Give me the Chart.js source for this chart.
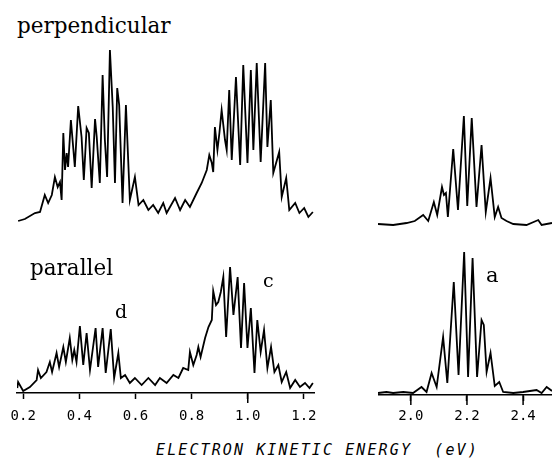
<!DOCTYPE html>
<html>
<head>
<meta charset="utf-8">
<script src="https://cdn.jsdelivr.net/npm/chart.js@4.4.1/dist/chart.umd.min.js"></script>
<style>
  body { margin:0; background:#fff; }
  #fig { position:relative; width:552px; height:458px; overflow:hidden; background:#fff; }
  #fig canvas { position:absolute; }
  .lbl { position:absolute; font-family:"DejaVu Serif"; line-height:1; color:#000; white-space:pre; }
  #xtitle { position:absolute; left:156px; top:443px; font-family:"DejaVu Sans Mono"; font-style:italic;
            font-size:15px; letter-spacing:2.1px; line-height:1; color:#000; white-space:pre; }
</style>
</head>
<body>
<div id="fig">
  <canvas id="perpLow"  width="297" height="190" style="left:17px;top:40px"></canvas>
  <canvas id="perpHigh" width="174" height="190" style="left:378px;top:40px"></canvas>
  <canvas id="parLow"   width="347" height="180" style="left:-8px;top:243px"></canvas>
  <canvas id="parHigh"  width="174" height="180" style="left:378px;top:245px"></canvas>

  <div class="lbl" style="left:17px;top:15px;font-size:21.5px">perpendicular</div>
  <div class="lbl" style="left:30px;top:257px;font-size:21.5px">parallel</div>
  <div class="lbl" style="left:115px;top:302px;font-size:19px">d</div>
  <div class="lbl" style="left:263px;top:271px;font-size:19px">c</div>
  <div class="lbl" style="left:486px;top:265px;font-size:21px">a</div>
  <div id="xtitle">ELECTRON KINETIC ENERGY  (eV)</div>
</div>

<script>
// ================= DATA =================
// electron kinetic energy (eV) / intensity (arb. units)

// perpendicular, low energy (bands d and c)
const perpLowE = [
  0.182,0.206,0.242,0.260,0.277,0.289,0.302,0.313,0.323,0.331,
  0.337,0.343,0.349,0.355,0.360,0.370,0.384,0.396,0.408,0.416,
  0.426,0.434,0.444,0.456,0.462,0.473,0.483,0.491,0.499,0.509,
  0.519,0.527,0.535,0.542,0.554,0.566,0.580,0.598,0.611,0.628,
  0.646,0.663,0.681,0.699,0.711,0.741,0.759,0.777,0.794,0.818,
  0.836,0.854,0.863,0.872,0.877,0.883,0.892,0.899,0.907,0.919,
  0.925,0.934,0.943,0.958,0.973,0.984,0.999,1.011,1.020,1.032,
  1.046,1.062,1.070,1.082,1.091,1.112,1.121,1.137,1.148,1.169,
  1.184,1.201,1.216,1.232
];
const perpLowI = [
  9,11,17,18,35,27,35,53,43,48,
  30,97,60,77,63,110,63,124,93,50,
  102,97,42,111,93,47,155,90,53,180,
  123,47,142,125,27,125,30,53,25,30,
  20,25,17,27,17,32,20,30,23,37,
  47,60,75,67,58,103,80,97,120,90,
  80,140,70,153,65,165,67,160,80,167,
  68,167,83,130,57,78,33,52,20,27,
  17,22,13,18
];

// perpendicular, band a
const perpHighE = [
  1.883,1.937,1.985,2.014,2.044,2.062,2.082,2.094,2.111,2.118,
  2.125,2.132,2.151,2.168,2.189,2.201,2.217,2.234,2.252,2.267,
  2.284,2.299,2.311,2.323,2.341,2.365,2.412,2.454,2.466,2.503
];
const perpHighI = [
  6,5,7,9,15,9,28,15,43,35,
  37,13,81,20,114,24,112,23,85,18,
  52,13,23,12,9,6,5,10,5,7
];

// parallel, low energy (bands d and c)
const parLowE = [
  0.179,0.182,0.200,0.224,0.248,0.253,0.263,0.283,0.295,0.303,
  0.319,0.328,0.343,0.352,0.366,0.375,0.382,0.390,0.402,0.414,
  0.426,0.438,0.458,0.467,0.483,0.494,0.512,0.524,0.539,0.548,
  0.563,0.580,0.598,0.622,0.646,0.670,0.687,0.711,0.735,0.753,
  0.770,0.788,0.794,0.806,0.818,0.824,0.832,0.848,0.860,0.872,
  0.877,0.887,0.895,0.904,0.913,0.923,0.937,0.949,0.964,0.976,
  0.987,0.999,1.011,1.024,1.034,1.046,1.058,1.070,1.083,1.095,
  1.109,1.121,1.137,1.151,1.169,1.186,1.204,1.220,1.232
];
const parLowI = [
  5,11,2,6,13,23,15,21,31,21,
  40,26,46,31,55,33,43,31,67,28,
  60,23,65,26,65,20,64,15,40,15,
  18,10,15,8,15,8,15,10,18,15,
  25,23,41,28,38,46,36,55,66,73,
  102,88,91,101,116,56,126,78,116,45,
  110,45,85,20,73,41,63,25,46,21,
  28,11,21,5,13,6,10,5,10
];

// parallel, band a
const parHighE = [
  1.883,1.913,1.937,1.973,2.008,2.038,2.056,2.074,2.092,2.115,
  2.130,2.153,2.170,2.190,2.204,2.220,2.236,2.252,2.260,2.270,
  2.284,2.299,2.315,2.329,2.365,2.400,2.448,2.466,2.484,2.503
];
const parHighI = [
  2,3,2,3,2,8,3,22,8,58,
  12,113,20,143,18,137,18,75,70,23,
  42,9,13,3,2,3,5,2,8,4
];

// axis ticks
const lowTicks = [0.2, 0.4, 0.6, 0.8, 1.0, 1.2];
const highTicks = [2.0, 2.2, 2.4];
const lowLongTicks = [1.0];
const highLongTicks = [2.0, 2.2, 2.4];

// ================= CHARTS =================
// longer marks on some ticks, as in the original plot
const longTickPlugin = {
  id: "longTicks",
  afterDraw(chart, args, opts){
    const vals = opts.values || [];
    if(!vals.length) return;
    const xs = chart.scales.x, ctx = chart.ctx, y0 = chart.chartArea.bottom;
    ctx.save();
    ctx.strokeStyle = "#000"; ctx.lineWidth = 1.5;
    vals.forEach(v => {
      const px = xs.getPixelForValue(v);
      ctx.beginPath(); ctx.moveTo(px, y0); ctx.lineTo(px, y0 + 10); ctx.stroke();
    });
    ctx.restore();
  }
};

function spectrum(id, energies, counts, xMin, xMax, yMax, ticks, longTicks, side, labelPad){
  const withAxis = ticks !== null;
  return new Chart(document.getElementById(id), {
    type: "line",
    data: {
      datasets: [{
        data: energies.map((e, i) => ({ x: e, y: counts[i] })),
        borderColor: "#000", borderWidth: 1.8, pointRadius: 0, tension: 0
      }]
    },
    options: {
      responsive: false, animation: false, events: [],
      layout: { padding: { left: side, right: side, top: 0, bottom: 0 }, autoPadding: false },
      plugins: { legend: { display: false }, tooltip: { enabled: false }, longTicks: { values: longTicks || [] } },
      scales: {
        x: {
          type: "linear", min: xMin, max: xMax, display: withAxis,
          afterBuildTicks: s => { if(withAxis) s.ticks = ticks.map(v => ({ value: v })); },
          afterFit: s => { if(withAxis) s.height = 30; },
          grid: { drawOnChartArea: false, drawTicks: true, tickLength: 6, tickWidth: 1.5, tickColor: "#000" },
          border: { display: true, color: "#000", width: 1.6 },
          ticks: {
            color: "#000", padding: labelPad, maxRotation: 0, autoSkip: false,
            font: { family: "DejaVu Sans Mono", size: 14 },
            callback: v => v.toFixed(1)
          }
        },
        y: { display: false, min: 0, max: yMax }
      }
    },
    plugins: [longTickPlugin]
  });
}

spectrum("perpLow",  perpLowE,  perpLowI,  0.178, 1.236, 190, null, null, 0, 0);
spectrum("perpHigh", perpHighE, perpHighI, 1.883, 2.503, 190, null, null, 0, 0);
spectrum("parLow",   parLowE,   parLowI,   0.178, 1.236, 150, lowTicks, lowLongTicks, 25, 9);
spectrum("parHigh",  parHighE,  parHighI,  1.883, 2.503, 150, highTicks, highLongTicks, 0, 7);
</script>
</body>
</html>
